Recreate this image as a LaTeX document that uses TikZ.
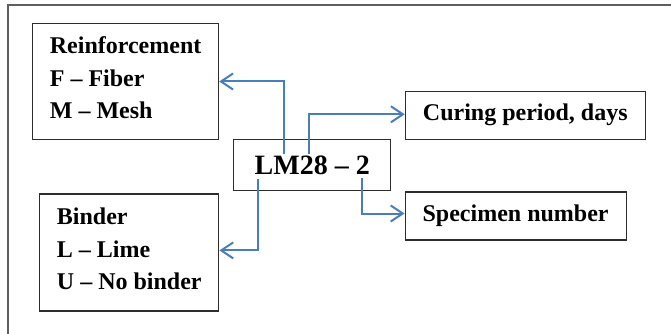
\documentclass[tikz,border=0pt]{standalone}
\usepackage{fontspec}
\setmainfont{Liberation Serif}
\usetikzlibrary{arrows.meta}
\definecolor{arrowblue}{RGB}{74,126,187}
\definecolor{framegray}{RGB}{95,95,95}
\definecolor{boxgray}{RGB}{45,45,45}
\tikzset{
  box/.style={draw=boxgray, line width=1.2pt, rectangle, inner sep=0pt, align=left,
    font=\fontsize{24}{32.5}\selectfont\bfseries},
  conn/.style={draw=arrowblue, line width=2pt, -{Straight Barb[length=12pt,width=16pt,line width=2pt]}},
}
\newcommand{\lowstrut}{\rule[-7pt]{0pt}{7pt}}
\begin{document}
\begin{tikzpicture}[x=1pt,y=-1pt]
\useasboundingbox (0,0) rectangle (671,334);
\draw[framegray, line width=2pt] (8,334) -- (8,5) -- (671,5);
\node[box, minimum width=186pt, minimum height=116.4pt] (reinf) at (125.6,81.5)
  {Reinforcement\\F -- Fiber\\M -- Mesh\lowstrut};
\node[box, minimum width=179pt, minimum height=117pt] (bind) at (129.3,252.4)
  {Binder\\L -- Lime\\U -- No binder\lowstrut};
\node[box, minimum width=157pt, minimum height=50.6pt, font=\fontsize{28}{32}\selectfont\bfseries] (lm) at (312.2,165)
  {LM28 -- 2};
\node[box, minimum width=240pt, minimum height=48pt] (cur) at (525.3,115.3)
  {Curing period, days};
\node[box, minimum width=221pt, minimum height=48pt] (spec) at (515.6,216)
  {Specimen number};
\coordinate (s1) at (283.7,154);
\coordinate (s2) at (309.4,154);
\coordinate (s3) at (257.6,179);
\coordinate (s4) at (362.4,178);
\draw[conn] (s1) |- (reinf.east);
\draw[conn] (s2) |- ([yshift=1pt]cur.west);
\draw[conn] (s3) |- ([yshift=2pt]bind.east);
\draw[conn] (s4) |- ([yshift=2.5pt]spec.west);
\end{tikzpicture}
\end{document}
